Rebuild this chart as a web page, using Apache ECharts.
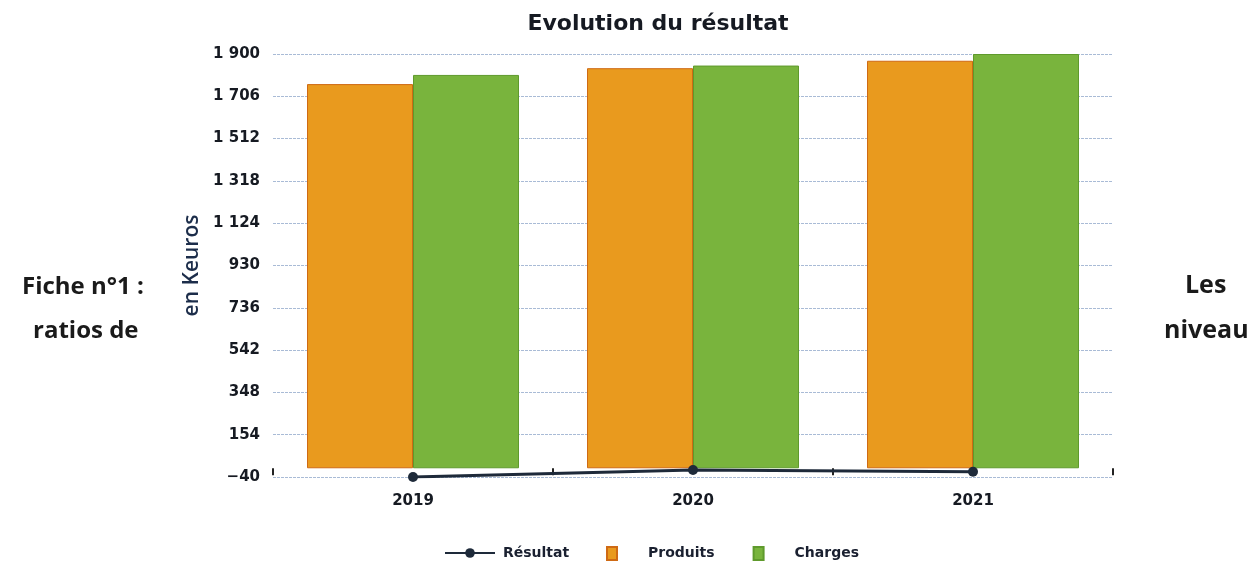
<!DOCTYPE html>
<html>
<head>
<meta charset="utf-8">
<script src="https://cdn.jsdelivr.net/npm/echarts@6/dist/echarts.min.js"></script>
<style>
html,body{margin:0;padding:0;background:#fff;}
#chart{width:1258px;height:563px;}
</style>
</head>
<body>
<div id="chart"></div>
<script>
const categories = ['2019', '2020', '2021'];
const resultat = [-40, -8, -16];
const produits = [1762, 1835, 1869];
const charges = [1804, 1847, 1900];
const yMin = -40;
const yMax = 1900;
const yStep = 194;

function fmt(v) {
  const s = String(Math.round(Math.abs(v)));
  const g = s.replace(/\B(?=(\d{3})+(?!\d))/g, ' ');
  return (v < 0 ? '\u2212' : '') + g;
}

const chart = echarts.init(document.getElementById('chart'), null, {renderer: 'canvas'});
chart.setOption({
  animation: false,
  backgroundColor: '#ffffff',
  title: {
    text: 'Evolution du résultat',
    left: 653, top: 8, textAlign: 'center',
    textStyle: {fontFamily: 'DejaVu Sans', fontSize: 22, fontWeight: 'bold', color: '#161a22'}
  },
  graphic: [
    {type: 'text', left: 22, top: 275, style: {text: 'Fiche n°1 :', font: 'bold 24px "Open Sans"', fill: '#1a1a1a'}},
    {type: 'text', left: 33, top: 319, style: {text: 'ratios de', font: 'bold 24px "Open Sans"', fill: '#1a1a1a'}},
    {type: 'text', left: 1185, top: 273, style: {text: 'Les', font: 'bold 25px "Open Sans"', fill: '#1a1a1a'}},
    {type: 'text', left: 1164, top: 318, style: {text: 'niveau', font: 'bold 25px "Open Sans"', fill: '#1a1a1a'}}
  ],
  grid: {left: 273, right: 145, top: 54, bottom: 86, containLabel: false},
  legend: [
    {
      data: ['Résultat'],
      left: 439, top: 541,
      itemWidth: 50, itemHeight: 12,
      textStyle: {fontFamily: 'DejaVu Sans', fontSize: 14, fontWeight: 'bold', color: '#1a2030', padding: [0, 0, 0, 3]}
    },
    {
      data: [{name: 'Produits', icon: 'rect'}, {name: 'Charges', icon: 'rect'}],
      left: 601, top: 541,
      itemWidth: 10, itemHeight: 13, itemGap: 38,
      textStyle: {fontFamily: 'DejaVu Sans', fontSize: 14, fontWeight: 'bold', color: '#1a2030', padding: [0, 0, 0, 26]}
    }
  ],
  xAxis: {
    type: 'category',
    data: categories,
    axisLine: {show: false},
    axisTick: {show: true, alignWithLabel: false, length: 7, lineStyle: {color: '#222', width: 2}},
    axisLabel: {margin: 17, fontFamily: 'DejaVu Sans', fontSize: 15, fontWeight: 'bold', color: '#161a22'},
    splitLine: {show: false}
  },
  yAxis: {
    type: 'value',
    min: yMin, max: yMax, interval: yStep,
    name: 'en Keuros',
    nameLocation: 'middle',
    nameGap: 68,
    nameTextStyle: {fontFamily: 'Open Sans', fontSize: 21, fontWeight: 600, color: '#1c2d4a'},
    axisLine: {show: false},
    axisTick: {show: false},
    axisLabel: {margin: 13, fontFamily: 'DejaVu Sans', fontSize: 15, fontWeight: 'bold', color: '#161a22', formatter: fmt},
    splitLine: {show: true, lineStyle: {color: '#a9bbd6', width: 1, type: [3, 1]}}
  },
  series: [
    {
      name: 'Produits', type: 'bar', data: produits,
      barWidth: 106, barGap: '0%',
      itemStyle: {color: '#e99a1e', borderColor: '#cf6a14', borderWidth: 1},
      z: 2
    },
    {
      name: 'Charges', type: 'bar', data: charges,
      barWidth: 106, barGap: '0%',
      itemStyle: {color: '#79b43d', borderColor: '#5f9a2c', borderWidth: 1},
      z: 2
    },
    {
      name: 'Résultat', type: 'line', data: resultat,
      symbol: 'circle', symbolSize: 10,
      lineStyle: {color: '#1e2a3a', width: 3},
      itemStyle: {color: '#1e2a3a'},
      z: 5
    }
  ]
});
</script>
</body>
</html>
